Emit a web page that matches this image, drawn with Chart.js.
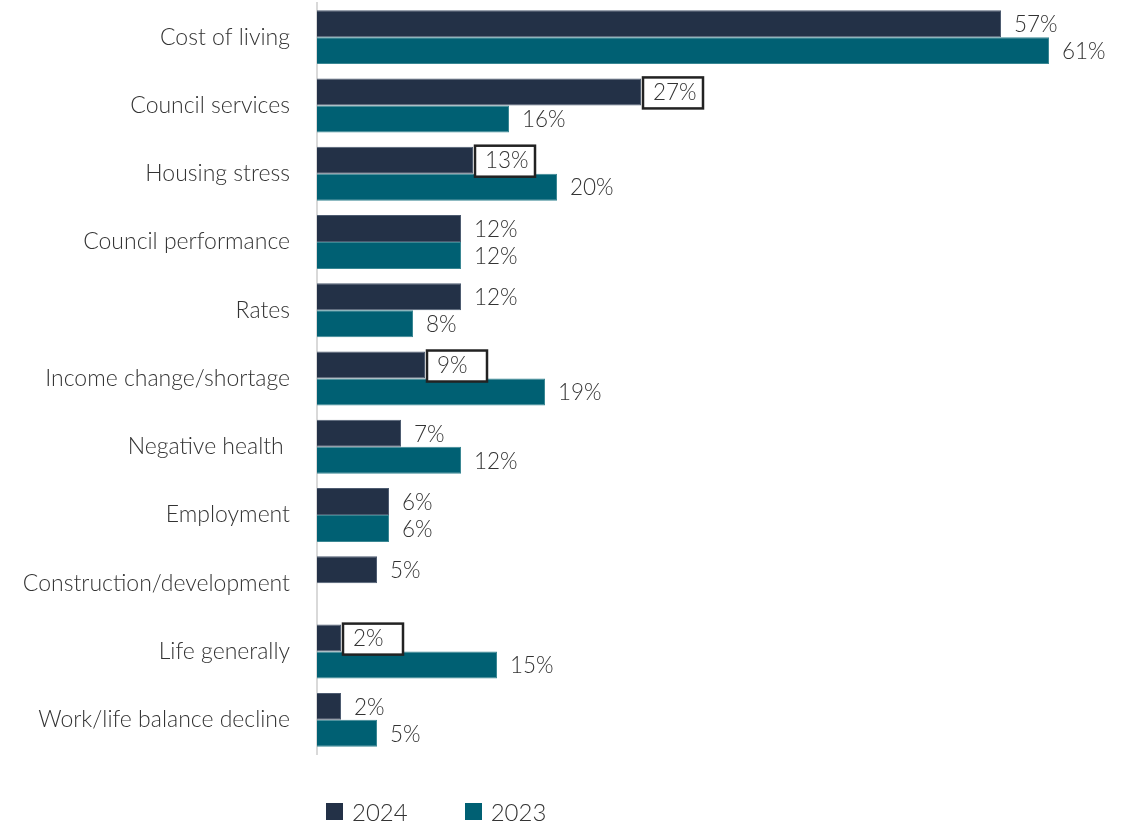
<!DOCTYPE html>
<html>
<head>
<meta charset="utf-8">
<script src="https://cdn.jsdelivr.net/npm/chart.js@4"></script>
<style>
  body { margin: 0; background: #fff; }
  #wrap { position: relative; width: 1130px; height: 824px; }
  #legend { position: absolute; left: 326px; top: 797px; font-family: Lato, sans-serif; font-weight: 300; font-size: 24px; color: #333; display: flex; }
  #legend span.item { display: flex; align-items: center; margin-right: 57px; }
  #legend span.box { display: inline-block; width: 17px; height: 17px; margin-right: 9px; }
</style>
</head>
<body>
<div id="wrap">
  <canvas id="barChart"></canvas>
  <div id="legend"></div>
</div>
<script>
const categories = [
  "Cost of living", "Council services", "Housing stress", "Council performance",
  "Rates", "Income change/shortage", "Negative health ", "Employment",
  "Construction/development", "Life generally", "Work/life balance decline"
];
const values2024 = [57, 27, 13, 12, 12, 9, 7, 6, 5, 2, 2];
const values2023 = [61, 16, 20, 12, 8, 19, 12, 6, null, 15, 5];
// 2024 labels that are boxed in the original
const boxed2024 = [false, true, true, false, false, true, false, false, false, true, false];

const seriesNames = ["2024", "2023"];
const seriesColors = ["#233147", "#006073"];
const borderColors = ["#4d5b70", "#3a8793"];

const valueLabels = {
  id: "valueLabels",
  afterDatasetsDraw(chart) {
    const ctx = chart.ctx;
    ctx.save();
    ctx.font = "300 22.5px Lato, sans-serif";
    ctx.textBaseline = "middle";
    ctx.textAlign = "left";
    chart.data.datasets.forEach(function (ds, di) {
      const meta = chart.getDatasetMeta(di);
      meta.data.forEach(function (bar, i) {
        const v = ds.data[i];
        if (v === null || v === undefined) return;
        const text = v + "%";
        if (di === 0 && boxed2024[i]) {
          const bx = bar.x + 2, by = bar.y - 14.5;
          ctx.fillStyle = "#fff";
          ctx.fillRect(bx, by, 60, 31);
          ctx.strokeStyle = "#222";
          ctx.lineWidth = 2.5;
          ctx.strokeRect(bx, by, 60, 31);
          ctx.fillStyle = "#333";
          ctx.fillText(text, bx + 10, bar.y + 1);
        } else {
          ctx.fillStyle = "#333";
          ctx.fillText(text, bar.x + 13, bar.y + 1);
        }
      });
    });
    ctx.restore();
  }
};

const data = {
  labels: categories,
  datasets: [
    {
      label: seriesNames[0],
      data: values2024,
      backgroundColor: seriesColors[0],
      borderColor: borderColors[0],
      borderWidth: 1,
      categoryPercentage: 0.79,
      barPercentage: 1.0,
    },
    {
      label: seriesNames[1],
      data: values2023,
      backgroundColor: seriesColors[1],
      borderColor: borderColors[1],
      borderWidth: 1,
      categoryPercentage: 0.79,
      barPercentage: 1.0,
    },
  ],
};

const config = {
  type: "bar",
  data: data,
  options: {
    indexAxis: "y",
    responsive: true,
    maintainAspectRatio: false,
    animation: false,
    layout: { padding: { top: 3, bottom: 70, left: 0, right: 0 } },
    plugins: {
      legend: { display: false },
      tooltip: { enabled: false },
    },
    scales: {
      x: {
        min: 0,
        max: 67.75,
        display: false,
      },
      y: {
        grid: { display: false },
        border: { color: "#d9d9d9", width: 2 },
        ticks: {
          padding: 19,
          color: "#333",
          font: { family: "Lato, sans-serif", size: 23, weight: 300 },
        },
        afterFit: function (scale) {
          scale.width = 317;
          scale.paddingTop = 0;
          scale.paddingBottom = 0;
        },
      },
    },
  },
  plugins: [valueLabels],
};

const barChart = new Chart(document.getElementById("barChart"), config);

const legendEl = document.getElementById("legend");
seriesNames.forEach(function (name, i) {
  const item = document.createElement("span");
  item.className = "item";
  const box = document.createElement("span");
  box.className = "box";
  box.style.background = seriesColors[i];
  item.appendChild(box);
  item.appendChild(document.createTextNode(name));
  legendEl.appendChild(item);
});
</script>
</body>
</html>
